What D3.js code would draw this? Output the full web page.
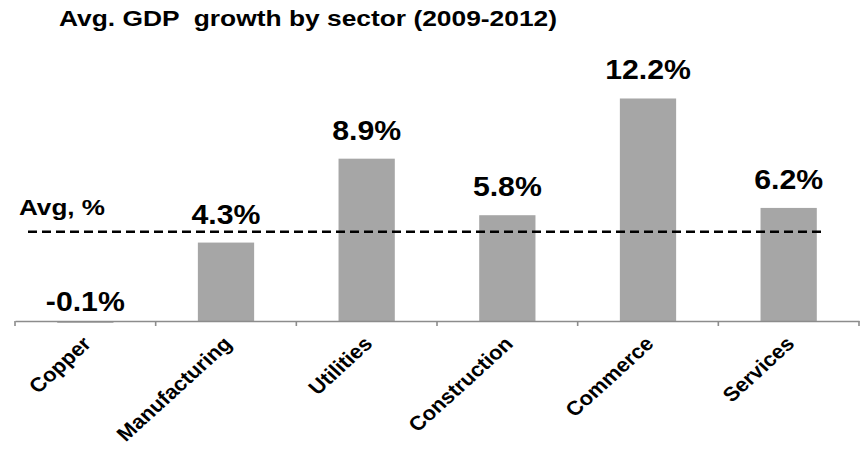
<!DOCTYPE html>
<html>
<head>
<meta charset="utf-8">
<script src="https://cdn.jsdelivr.net/npm/d3@7"></script>
<style>
  html, body { margin: 0; padding: 0; background: #fff; }
  svg { display: block; font-family: "Liberation Sans", Arial, Helvetica, sans-serif; }
  text { white-space: pre; }
</style>
</head>
<body>
<svg id="chart" width="860" height="450"></svg>
<script>
// Sector growth data, 2009-2012 average
const sectors = ["Copper", "Manufacturing", "Utilities", "Construction", "Commerce", "Services"];
const growth = [-0.1, 4.3, 8.9, 5.8, 12.2, 6.2];
const valueLabels = ["-0.1%", "4.3%", "8.9%", "5.8%", "12.2%", "6.2%"];
const averageGrowth = 4.9;
const titleText = "Avg. GDP  growth by sector (2009-2012)";
const averageText = "Avg, %";

const svg = d3.select("#chart");

const x = d3.scaleBand()
  .domain(sectors)
  .range([15, 859])
  .paddingInner(0.6)
  .paddingOuter(0.3);

const y = d3.scaleLinear()
  .domain([0, 17.6])
  .range([321, 0]);

const barColor = "#a6a6a6";
const stretch = 1.08;

// Title
svg.append("text")
  .attr("x", 59)
  .attr("y", 26)
  .attr("font-size", 22)
  .attr("font-weight", "bold")
  .attr("fill", "#000")
  .attr("textLength", 498)
  .attr("lengthAdjust", "spacingAndGlyphs")
  .text(titleText);

// Bars
svg.append("g")
  .selectAll("rect")
  .data(sectors)
  .join("rect")
  .attr("x", d => x(d))
  .attr("width", x.bandwidth())
  .attr("y", (d, i) => Math.min(y(growth[i]), y(0)))
  .attr("height", (d, i) => Math.max(1.5, Math.abs(y(growth[i]) - y(0))))
  .attr("fill", barColor);

// Average reference line
svg.append("line")
  .attr("x1", 28)
  .attr("x2", 822)
  .attr("y1", y(averageGrowth))
  .attr("y2", y(averageGrowth))
  .attr("stroke", "#000")
  .attr("stroke-width", 2.5)
  .attr("stroke-dasharray", "9,5");

svg.append("text")
  .attr("x", 19)
  .attr("y", 215)
  .attr("font-size", 22)
  .attr("font-weight", "bold")
  .attr("textLength", 86)
  .attr("lengthAdjust", "spacingAndGlyphs")
  .text(averageText);

// Category axis: baseline with ticks between categories
const axis = d3.axisBottom(x).tickSize(0).tickFormat("");
const axisG = svg.append("g")
  .attr("transform", `translate(0,${y(0)})`)
  .call(axis);
axisG.select(".domain")
  .attr("stroke", "#8c8c8c")
  .attr("stroke-width", 1.6);

const boundaries = sectors.map(d => x(d) - x.step() * x.paddingInner() / 2)
  .concat([x.range()[1]]);
boundaries[0] = x.range()[0];
axisG.selectAll(".bound")
  .data(boundaries)
  .join("line")
  .attr("class", "bound")
  .attr("x1", d => d)
  .attr("x2", d => d)
  .attr("y1", 0)
  .attr("y2", 5)
  .attr("stroke", "#8c8c8c")
  .attr("stroke-width", 1.6);

// Rotated category labels
svg.append("g")
  .selectAll("text")
  .data(sectors)
  .join("text")
  .attr("transform", d => `translate(${x(d) + x.bandwidth() / 2 + 7},345) scale(1.1,1) rotate(-45)`)
  .attr("text-anchor", "end")
  .attr("font-size", 20)
  .attr("font-weight", "bold")
  .text(d => d);

// Value labels above bars
svg.append("g")
  .selectAll("text")
  .data(sectors)
  .join("text")
  .attr("transform", (d, i) => {
    const cx = x(d) + x.bandwidth() / 2;
    const v = growth[i];
    const yy = v >= 0 ? y(v) - 19 : y(0) - 10;
    return `translate(${cx},${yy}) scale(${stretch},1)`;
  })
  .attr("text-anchor", "middle")
  .attr("font-size", 28)
  .attr("font-weight", "bold")
  .text((d, i) => valueLabels[i]);
</script>
</body>
</html>
